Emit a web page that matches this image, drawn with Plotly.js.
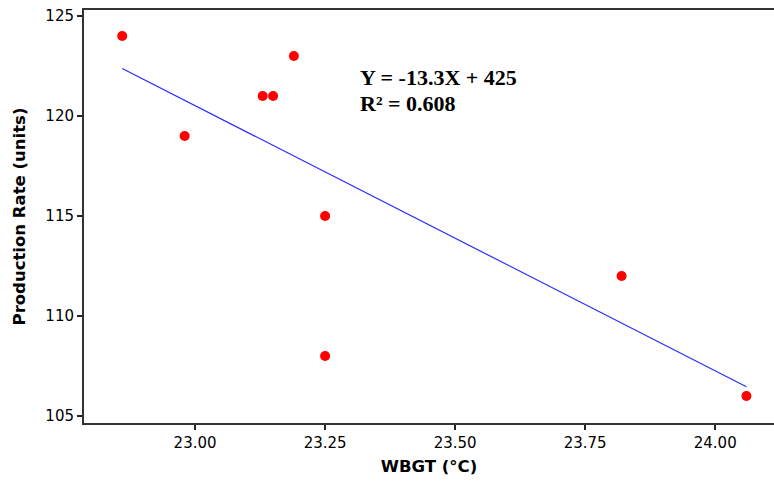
<!DOCTYPE html>
<html>
<head>
<meta charset="utf-8">
<script src="https://cdn.plot.ly/plotly-3.0.1.min.js"></script>
<style>
html,body{margin:0;padding:0;background:#fff;}
#chart{width:774px;height:482px;}
</style>
</head>
<body>
<div id="chart"></div>
<script>
// Data
const wbgt = [22.86, 22.98, 23.13, 23.15, 23.19, 23.25, 23.25, 23.82, 24.06];
const productionRate = [124, 119, 121, 121, 123, 115, 108, 112, 106];
const xTickVals = [23.00, 23.25, 23.50, 23.75, 24.00];
const xTickText = ["23.00", "23.25", "23.50", "23.75", "24.00"];
const yTickVals = [105, 110, 115, 120, 125];
const equationText = "Y = -13.3X + 425";
const r2Text = "R² = 0.608";

// Least-squares fit from the data
const n = wbgt.length;
const mx = wbgt.reduce((a, b) => a + b, 0) / n;
const my = productionRate.reduce((a, b) => a + b, 0) / n;
let sxy = 0, sxx = 0;
for (let i = 0; i < n; i++) { sxy += (wbgt[i] - mx) * (productionRate[i] - my); sxx += (wbgt[i] - mx) ** 2; }
const slope = sxy / sxx;
const intercept = my - slope * mx;
const xMin = Math.min(...wbgt), xMax = Math.max(...wbgt);
const fitX = [xMin, xMax];
const fitY = fitX.map(x => intercept + slope * x);

const traces = [
  {x: fitX, y: fitY, mode: 'lines', type: 'scatter', line: {color: '#2b2bff', width: 1.2}, hoverinfo: 'skip'},
  {x: wbgt, y: productionRate, mode: 'markers', type: 'scatter', marker: {color: '#ff0000', size: 10}}
];

const axisFont = {family: 'DejaVu Sans', size: 15, color: '#000'};
const titleFont = {family: 'DejaVu Sans', size: 16.5, color: '#000', weight: 'bold'};
const layout = {
  width: 774, height: 482,
  margin: {l: 84, r: 0, t: 10, b: 59},
  paper_bgcolor: '#fff', plot_bgcolor: '#fff',
  showlegend: false,
  xaxis: {
    range: [22.7865, 24.113],
    tickvals: xTickVals, ticktext: xTickText,
    ticks: 'outside', ticklen: 5, tickwidth: 1.5, tickcolor: '#222',
    showline: true, linecolor: '#333', linewidth: 2, mirror: true,
    showgrid: false, zeroline: false,
    tickfont: axisFont,
    title: {text: 'WBGT (°C)', font: titleFont, standoff: 9},
    automargin: false
  },
  yaxis: {
    range: [104.65, 125.3],
    tickvals: yTickVals,
    ticks: 'outside', ticklen: 5, tickwidth: 1.5, tickcolor: '#222',
    showline: true, linecolor: '#333', linewidth: 2,
    showgrid: false, zeroline: false,
    tickfont: axisFont,
    title: {text: 'Production Rate (units)', font: titleFont, standoff: 16},
    automargin: false
  },
  annotations: [
    {x: 23.313, y: 121.95, xref: 'x', yref: 'y', xanchor: 'left', yanchor: 'middle', showarrow: false,
     text: '<b>' + equationText + '</b>', font: {family: 'Liberation Serif', size: 22, color: '#000'}},
    {x: 23.313, y: 120.65, xref: 'x', yref: 'y', xanchor: 'left', yanchor: 'middle', showarrow: false,
     text: '<b>' + r2Text + '</b>', font: {family: 'Liberation Serif', size: 22, color: '#000'}}
  ]
};

Plotly.newPlot('chart', traces, layout, {displayModeBar: false, staticPlot: true});
</script>
</body>
</html>
